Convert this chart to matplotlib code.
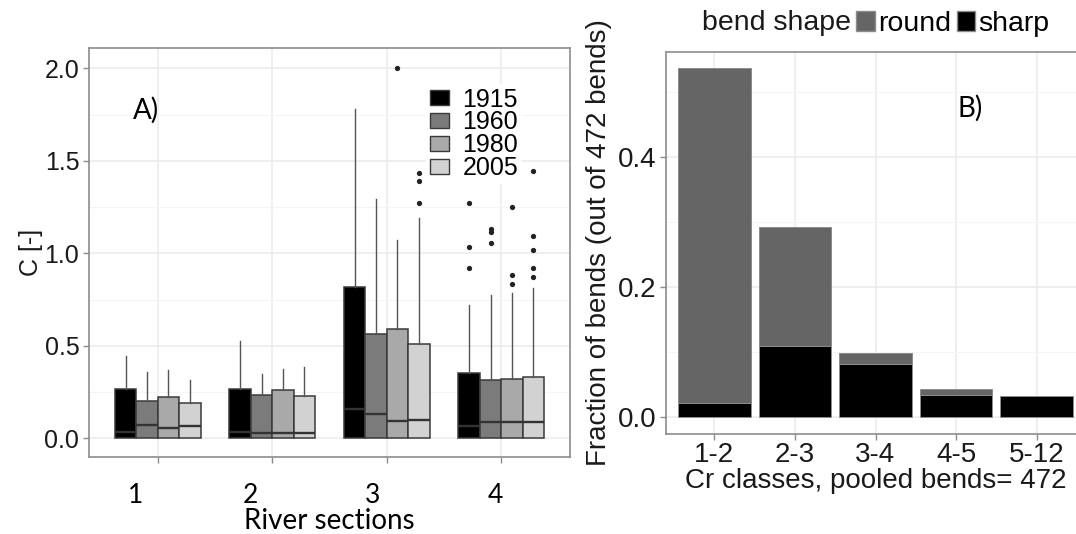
import matplotlib.pyplot as plt
from matplotlib.patches import Patch
from matplotlib.transforms import ScaledTranslation
import numpy as np

plt.rcParams['font.family'] = ['Liberation Sans', 'DejaVu Sans']

# --- A) box plots of C per river section and survey year ---
sections = [1, 2, 3, 4]
years = ['1915', '1960', '1980', '2005']
year_colours = ['#000000', '#7b7b7b', '#a9a9a9', '#d2d2d2']

# rows = years, columns = sections; lower quartile and lower whisker are 0
c_median = [[0.034, 0.034, 0.162, 0.070],
            [0.072, 0.027, 0.130, 0.088],
            [0.058, 0.027, 0.094, 0.088],
            [0.066, 0.030, 0.102, 0.090]]
c_q3 = [[0.268, 0.270, 0.821, 0.354],
        [0.200, 0.237, 0.564, 0.314],
        [0.223, 0.260, 0.593, 0.322],
        [0.190, 0.228, 0.510, 0.333]]
c_whisker = [[0.445, 0.525, 1.780, 0.722],
             [0.360, 0.350, 1.292, 0.773],
             [0.370, 0.377, 1.070, 0.785],
             [0.315, 0.385, 1.190, 0.812]]
c_outliers = [[[], [], [], [0.923, 1.033, 1.274]],
              [[], [], [], [1.055, 1.118, 1.132]],
              [[], [], [2.004], [0.836, 0.884, 1.249]],
              [[], [], [1.274, 1.390, 1.432], [0.874, 0.923, 1.019, 1.096, 1.445]]]

# --- B) bend shape per Cr class ---
cr_classes = ['1-2', '2-3', '3-4', '4-5', '5-12']
n_round = [243, 87, 8, 4, 0]
n_sharp = [10, 51, 38, 16, 15]
n_bends = 472

W, H = 1076, 534
fig = plt.figure(figsize=(W / 100, H / 100), dpi=100)

frame_col = '#8c8c8c'
text_col = '#1a1a1a'

# ---------------- panel A ----------------
ax = fig.add_axes([89 / W, 1 - 457 / H, (570 - 89) / W, (457 - 48) / H])
box_w = 0.75 / len(years)
for i, yr in enumerate(years):
    stats = []
    for j in range(len(sections)):
        stats.append(dict(med=c_median[i][j], q1=0.0, q3=c_q3[i][j],
                          whislo=0.0, whishi=c_whisker[i][j],
                          fliers=np.array(c_outliers[i][j])))
    pos = [s + (i - 1.5) * box_w for s in sections]
    ax.bxp(stats, positions=pos, widths=box_w, patch_artist=True, showcaps=False,
           manage_ticks=False,
           boxprops=dict(facecolor=year_colours[i], edgecolor='#3a3a3a', linewidth=1.1),
           medianprops=dict(color='#333333', linewidth=1.7),
           whiskerprops=dict(color='#555555', linewidth=1.0),
           flierprops=dict(marker='o', markersize=3.8, markerfacecolor='#222222',
                           markeredgecolor='none'))

ax.set_xlim(0.4, 4.6)
ax.set_ylim(-0.1, 2.11)
ax.set_yticks([0, 0.5, 1.0, 1.5, 2.0])
ax.set_yticklabels(['0.0', '0.5', '1.0', '1.5', '2.0'])
ax.set_yticks([0.25, 0.75, 1.25, 1.75], minor=True)
ax.set_xticks(sections)
ax.set_xticklabels([str(s) for s in sections], family='Lato', fontsize=19, color='black')
ax.grid(which='major', color='#ebebeb', linewidth=1.1)
ax.grid(which='minor', axis='y', color='#f5f5f5', linewidth=0.8)
ax.set_axisbelow(True)
ax.tick_params(axis='y', labelsize=18, labelcolor=text_col, length=4, width=1, color=frame_col, pad=3)
ax.tick_params(axis='x', length=4, width=1, color=frame_col, pad=15)
ax.tick_params(which='minor', length=0)
for sp in ax.spines.values():
    sp.set_color(frame_col)
    sp.set_linewidth(1.2)

# section numbers sit a little left of their ticks
nudge_px = [-22, -22, -14, -6]
for lab, dx in zip(ax.get_xticklabels(), nudge_px):
    lab.set_transform(lab.get_transform() + ScaledTranslation(dx / 100, 0, fig.dpi_scale_trans))

ax.set_xlabel('River sections', family='Lato', fontsize=20, color='black', labelpad=0)
ax.set_ylabel('C [-]', fontsize=18, color=text_col, labelpad=1)
ax.text(133 / W, 1 - 110 / H, 'A)', transform=fig.transFigure, family='Lato',
        fontsize=20, va='center', ha='left')

handles = [Patch(facecolor=c, edgecolor='#3a3a3a', linewidth=1.0) for c in year_colours]
leg = ax.legend(handles, years, loc='upper left', bbox_to_anchor=(426 / W, 1 - 84 / H),
                bbox_transform=fig.transFigure, fontsize=18, frameon=True,
                handlelength=0.75, handleheight=0.55, handletextpad=0.55,
                labelspacing=-0.05, borderpad=0.15, borderaxespad=0)
leg.get_frame().set_facecolor('white')
leg.get_frame().set_edgecolor('none')
leg.get_frame().set_alpha(1)

# ---------------- panel B ----------------
bx = fig.add_axes([666 / W, 1 - 434 / H, (1085 - 666) / W, (434 - 52) / H])
xpos = np.arange(len(cr_classes))
frac_sharp = np.array(n_sharp) / n_bends
frac_round = np.array(n_round) / n_bends
bx.bar(xpos, frac_sharp, width=0.9, color='black', edgecolor='#8c8c8c', linewidth=0.7)
bx.bar(xpos, frac_round, width=0.9, bottom=frac_sharp, color='#656565',
       edgecolor='#8c8c8c', linewidth=0.7)

bx.set_xlim(-0.6, 4.6)
bx.set_ylim(-0.0267, 0.561)
bx.set_yticks([0, 0.2, 0.4])
bx.set_yticklabels(['0.0', '0.2', '0.4'])
bx.set_yticks([0.1, 0.3, 0.5], minor=True)
bx.set_xticks(xpos)
bx.set_xticklabels(cr_classes)
bx.grid(which='major', color='#ebebeb', linewidth=1.1)
bx.grid(which='minor', axis='y', color='#f5f5f5', linewidth=0.8)
bx.set_axisbelow(True)
bx.tick_params(labelsize=20, labelcolor=text_col, length=4, width=1, color=frame_col, pad=3)
bx.tick_params(axis='x', pad=2)
bx.tick_params(which='minor', length=0)
for sp in bx.spines.values():
    sp.set_color(frame_col)
    sp.set_linewidth(1.2)
bx.set_xlabel('Cr classes, pooled bends= ' + str(n_bends), fontsize=20, color=text_col, labelpad=0)
bx.set_ylabel('Fraction of bends (out of ' + str(n_bends) + ' bends)', fontsize=20,
              color=text_col, labelpad=4)
bx.text(957 / W, 1 - 108 / H, 'B)', transform=fig.transFigure, family='Lato',
        fontsize=20, va='center', ha='left')

fig.text(851 / W, 1 - 23 / H, 'bend shape', fontsize=20.5, color=text_col,
         ha='right', va='center')
fig.legend([Patch(facecolor='#656565', edgecolor='#8c8c8c'),
            Patch(facecolor='black', edgecolor='#8c8c8c')], ['round', 'sharp'],
           loc='center left', bbox_to_anchor=(856 / W, 1 - 24 / H), ncol=2,
           frameon=False, fontsize=20.5, handlelength=0.65, handleheight=0.65,
           handletextpad=0.12, columnspacing=0.2, borderpad=0, borderaxespad=0)

fig.savefig('out.png', dpi=100)
